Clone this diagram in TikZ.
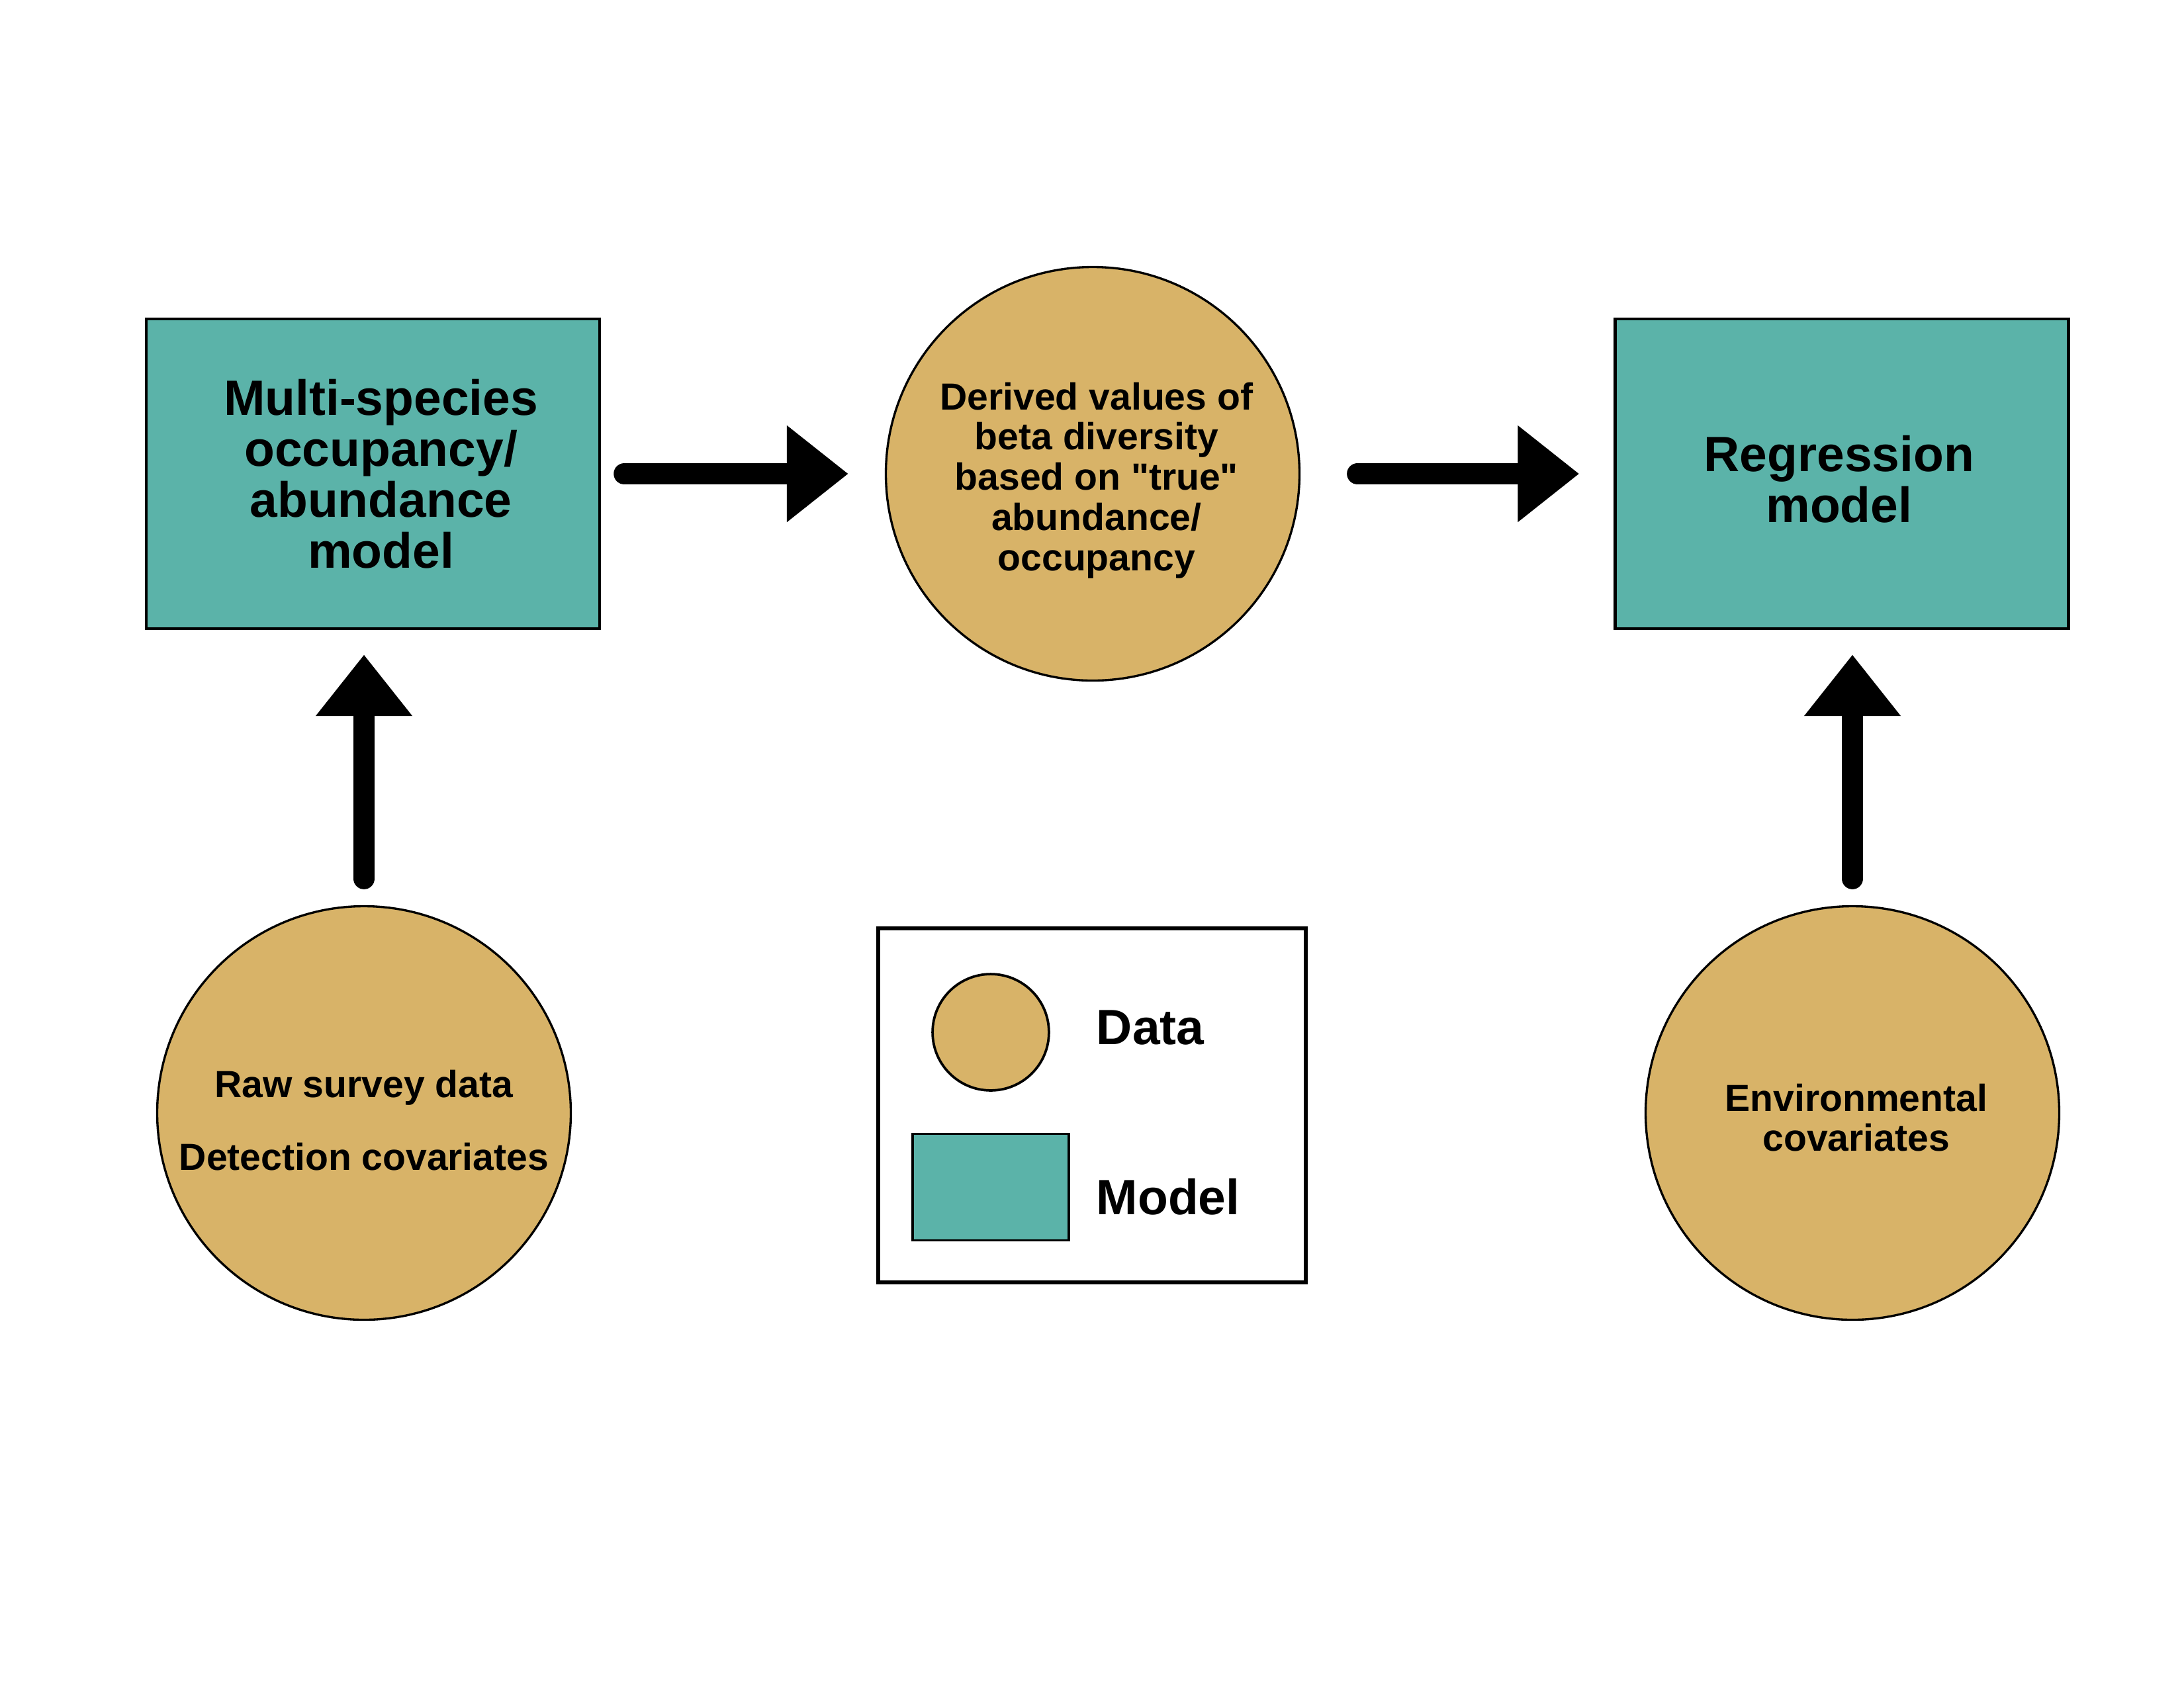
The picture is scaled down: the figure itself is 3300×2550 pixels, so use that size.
\documentclass[tikz,border=0pt]{standalone}
\usepackage{fontspec}
\setmainfont{Liberation Sans}
\newfontfamily\arialf{Liberation Sans}
\usetikzlibrary{arrows.meta,calc}
\definecolor{teal}{HTML}{5BB3A9}
\definecolor{tan}{HTML}{D8B368}
\newcommand\bigtxt{\arialf\fontsize{18}{18.5}\selectfont\bfseries}
\newcommand\smtxt{\arialf\fontsize{13.7}{14.6}\selectfont\bfseries}
\begin{document}
\begin{tikzpicture}[x=0.24pt,y=-0.24pt,
  modelbox/.style={draw=black,line width=1.1pt,fill=teal,minimum width=164.4pt,minimum height=112.3pt,inner sep=0pt},
  databall/.style={circle,draw=black,line width=0.8pt,fill=tan,minimum size=150pt,inner sep=0pt},
  bigt/.style={align=center,font=\bigtxt,inner sep=0pt},
  smt/.style={align=center,font=\smtxt,inner sep=0pt},
  bigarrow/.style={line width=7.7pt,line cap=round,-{Triangle[length=22.3pt,width=33.6pt]}},
  legtext/.style={anchor=base west,inner sep=0pt,font=\bigtxt}]
\useasboundingbox (0,0) rectangle (3300,2550);
\fill[white] (0,0) rectangle (3300,2550);
% main nodes
\node[modelbox,label={[bigt,xshift=2.9pt]center:{Multi-species\\occupancy/\\abundance\\model}}] (L) at (563.5,716) {};
\node[databall,label={[smt,xshift=1.4pt,yshift=-2.4pt]center:{Derived values of\\beta diversity\\based on "true"\\abundance/\\occupancy}}] (M) at (1651,716) {};
\node[modelbox,label={[bigt,xshift=-1pt,yshift=-1.9pt]center:{Regression\\model}}] (R) at (2783,716) {};
\node[databall,label={[smt,yshift=-2.6pt]center:{Raw survey data\\[11.8pt]Detection covariates}}] (B1) at (550,1682) {};
\node[databall,label={[smt,xshift=1.4pt,yshift=-1.7pt]center:{Environmental\\covariates}}] (B2) at (2799,1682) {};
% connectors
\draw[bigarrow] ($(L.east)+(35,0)$) -- ($(M.west)+(-55,0)$);
\draw[bigarrow] ($(M.east)+(86,0)$) -- ($(R.west)+(-52,0)$);
\draw[bigarrow] ($(B1.north)+(0,-40)$) -- ($(B1.north |- L.south)+(0,37)$);
\draw[bigarrow] ($(B2.north)+(0,-40)$) -- ($(B2.north |- R.south)+(0,37)$);
% legend
\node[draw=black,line width=1.4pt,fill=white,minimum width=155pt,minimum height=128.4pt,inner sep=0pt] (leg) at (1650,1670.5) {};
\node[circle,draw=black,line width=0.9pt,fill=tan,minimum size=42.2pt,inner sep=0pt] (legC) at (1497,1560) {};
\node[draw=black,line width=0.9pt,fill=teal,minimum width=56.6pt,minimum height=38.6pt,inner sep=0pt] (legR) at (1497,1794) {};
\node[legtext] (legD) at (1656,1578) {Data};
\node[legtext] (legM) at (1656,1835) {Model};
\end{tikzpicture}
\end{document}
